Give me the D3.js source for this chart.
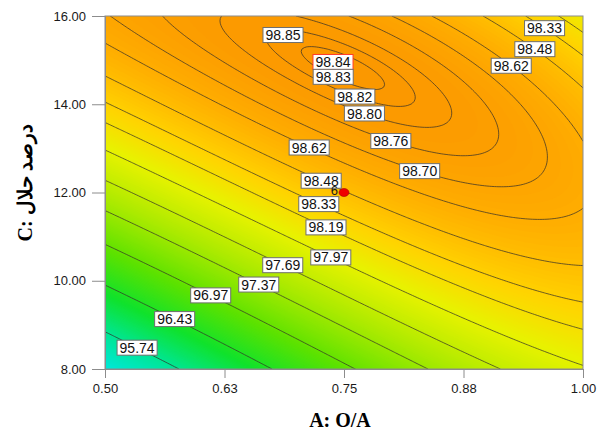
<!DOCTYPE html>
<html>
<head>
<meta charset="utf-8">
<script src="https://cdn.jsdelivr.net/npm/d3@7"></script>
<style>
  body { margin: 0; background: #fff; }
  svg { display: block; }
</style>
</head>
<body>
<svg id="chart" width="604" height="432"></svg>
<script>
// contour levels that carry a label on the plot
var levels = [95.74, 96.43, 96.97, 97.37, 97.69, 97.97, 98.19, 98.33, 98.48,
              98.62, 98.70, 98.76, 98.80, 98.82, 98.83, 98.84, 98.85];
var xTicks = [0.5, 0.625, 0.75, 0.875, 1.0];
var xTickLabels = ["0.50", "0.63", "0.75", "0.88", "1.00"];
var yTicks = [8, 10, 12, 14, 16];

// points: O/A, solvent %, response
var obsA = [0.5, 0.5, 0.5, 0.5, 0.5, 0.5, 0.5, 0.5, 0.5, 0.5,
            0.5732, 0.6674, 0.7563, 0.8368, 0.9205,
            1, 1, 1, 1, 1, 1,
            0.6862, 0.7385, 0.7364, 0.7615, 0.7720, 0.8002, 0.8295, 0.7123,
            0.9236, 0.9487, 0.9613, 0.7249, 0.7238, 0.7322, 0.7364, 0.6872,
            0.6611, 0.6109, 0.5743, 0.5366, 0.9519];
var obsC = [8.816, 9.858, 10.765, 11.535, 12.261, 12.963, 13.598, 14.096, 14.708, 15.433,
            8, 8, 8, 8, 8,
            8.159, 8.884, 9.496, 10.176, 11.354, 13.054,
            15.569, 14.958, 14.550, 14.164, 13.779, 13.258, 12.578, 12.986,
            14.799, 15.229, 15.728, 12.261, 11.717, 11.195, 10.538, 10.357,
            9.949, 9.700, 9.201, 8.589, 12.510];
var obsY = [95.74, 96.43, 96.97, 97.37, 97.69, 97.97, 98.19, 98.33, 98.48, 98.62,
            95.74, 96.43, 96.97, 97.37, 97.69,
            97.97, 98.19, 98.33, 98.48, 98.62, 98.62,
            98.85, 98.84, 98.83, 98.82, 98.80, 98.76, 98.70, 98.62,
            98.62, 98.48, 98.33, 98.48, 98.33, 98.19, 97.97, 97.69,
            97.37, 96.97, 96.43, 95.74, 98.70];

// where the label boxes sit
var labelLevel = [98.85, 98.84, 98.83, 98.82, 98.80, 98.76, 98.70, 98.62,
                  98.62, 98.48, 98.33, 98.48, 98.33, 98.19, 97.97, 97.69,
                  97.37, 96.97, 96.43, 95.74];
var labelA = [0.6862, 0.7385, 0.7364, 0.7615, 0.7720, 0.8002, 0.8295, 0.7123,
              0.9236, 0.9487, 0.9613, 0.7249, 0.7238, 0.7322, 0.7364, 0.6872,
              0.6611, 0.6109, 0.5743, 0.5366];
var labelC = [15.569, 14.958, 14.550, 14.164, 13.779, 13.258, 12.578, 12.986,
              14.799, 15.229, 15.728, 12.261, 11.717, 11.195, 10.538, 10.357,
              9.949, 9.700, 9.201, 8.589];

// design point (centre point, 6 runs)
var designA = [0.75];
var designC = [12];
var designRuns = ["6"];

var svg = d3.select("#chart");
var plotL = 105, plotR = 583, plotT = 16, plotB = 369;

var xScale = d3.scaleLinear().domain([0.5, 1]).range([plotL, plotR]);
var yScale = d3.scaleLinear().domain([8, 16]).range([plotB, plotT]);

var colour = d3.scaleLinear()
  .domain([95.1, 95.7, 96.3, 96.9, 97.5, 98.0, 98.3, 98.6, 98.85])
  .range(["#00e8e0", "#00e698", "#10e22c", "#5ce200", "#acea00", "#e8f200",
          "#ffd400", "#ffaf00", "#fb9600"])
  .clamp(true);

// cubic response surface in coded units, least squares on the points above
function basis(A, C) {
  var a = (A - 0.75) / 0.25, c = (C - 12) / 4;
  return [1, a, c, a * c, a * a, c * c, a * a * c, a * c * c, a * a * a, c * c * c];
}

function fit(As, Cs, Ys) {
  var k = basis(0.75, 12).length;
  var M = d3.range(k).map(function() { return new Array(k + 1).fill(0); });
  As.forEach(function(A, i) {
    var b = basis(A, Cs[i]);
    for (var r = 0; r < k; r++) {
      for (var s = 0; s < k; s++) M[r][s] += b[r] * b[s];
      M[r][k] += b[r] * Ys[i];
    }
  });
  for (var r = 0; r < k; r++) M[r][r] += 1e-4;
  for (var p = 0; p < k; p++) {
    var best = p;
    for (var r2 = p + 1; r2 < k; r2++) if (Math.abs(M[r2][p]) > Math.abs(M[best][p])) best = r2;
    var tmp = M[p]; M[p] = M[best]; M[best] = tmp;
    for (var r3 = 0; r3 < k; r3++) {
      if (r3 === p) continue;
      var f = M[r3][p] / M[p][p];
      for (var s2 = p; s2 <= k; s2++) M[r3][s2] -= f * M[p][s2];
    }
  }
  return M.map(function(row, i) { return row[k] / row[i]; });
}

var coef = fit(obsA, obsC, obsY);
function surface(A, C) {
  return d3.sum(basis(A, C), function(b, i) { return b * coef[i]; });
}

// sample the surface on a grid
var nx = 200, ny = 150;
var grid = new Array(nx * ny);
for (var j = 0; j < ny; j++) {
  for (var i = 0; i < nx; i++) {
    grid[j * nx + i] = surface(0.5 + i * 0.5 / (nx - 1), 16 - j * 8 / (ny - 1));
  }
}
function gridA(gx) { return 0.5 + (gx - 0.5) * 0.5 / (nx - 1); }
function gridC(gy) { return 16 - (gy - 0.5) * 8 / (ny - 1); }

var path = d3.geoPath(d3.geoTransform({
  point: function(x, y) { this.stream.point(xScale(gridA(x)), yScale(gridC(y))); }
}));

svg.append("clipPath").attr("id", "plotClip")
  .append("rect")
    .attr("x", plotL).attr("y", plotT)
    .attr("width", plotR - plotL).attr("height", plotB - plotT);

var plot = svg.append("g").attr("clip-path", "url(#plotClip)");

// colour field as many thin filled bands
var lo = d3.min(grid);
var fillSteps = d3.range(Math.floor(lo * 50) / 50, 98.9, 0.02);
plot.append("rect")
  .attr("x", plotL).attr("y", plotT)
  .attr("width", plotR - plotL).attr("height", plotB - plotT)
  .attr("fill", colour(lo));

plot.append("g")
  .selectAll("path")
  .data(d3.contours().size([nx, ny]).thresholds(fillSteps)(grid))
  .enter()
    .append("path")
    .attr("d", path)
    .attr("fill", function(d) { return colour(d.value + 0.01); });

// contour lines
var lines = d3.contours().size([nx, ny]).thresholds(levels)(grid);
plot.append("g")
  .selectAll("path")
  .data(lines)
  .enter()
    .append("path")
    .attr("d", path)
    .attr("fill", "none")
    .attr("stroke", function(d) { return d.value === 98.84 ? "#ff3a2a" : "#34302a"; })
    .attr("stroke-opacity", 0.9)
    .attr("stroke-width", 0.8);

// frame
svg.append("rect")
  .attr("x", plotL).attr("y", plotT)
  .attr("width", plotR - plotL).attr("height", plotB - plotT)
  .attr("fill", "none")
  .attr("stroke", "#8c8c8c")
  .attr("stroke-width", 1);

// axes
var yAxis = d3.axisLeft(yScale)
  .tickValues(yTicks)
  .tickFormat(d3.format(".2f"))
  .tickSize(13)
  .tickPadding(6);

var xAxis = d3.axisBottom(xScale)
  .tickValues(xTicks)
  .tickFormat(function(d, i) { return xTickLabels[i]; })
  .tickSize(9)
  .tickPadding(6);

var gy = svg.append("g").attr("transform", "translate(" + plotL + ",0)").call(yAxis);
var gx = svg.append("g").attr("transform", "translate(0," + plotB + ")").call(xAxis);

[gx, gy].forEach(function(g) {
  g.select(".domain").attr("stroke", "#8c8c8c");
  g.selectAll(".tick line").attr("stroke", "#8c8c8c");
  g.selectAll(".tick text")
    .attr("fill", "#1a1a1a")
    .style("font-family", "'Liberation Sans', Arial, sans-serif")
    .style("font-size", "13px");
});

// contour labels, snapped onto the nearest point of their own line
function nearestOnLine(level, px, py) {
  var best = null, bestD = Infinity;
  lines.filter(function(d) { return d.value === level; }).forEach(function(d) {
    d.coordinates.forEach(function(poly) {
      poly.forEach(function(ring) {
        ring.forEach(function(pt) {
          var x = xScale(gridA(pt[0])), y = yScale(gridC(pt[1]));
          if (x < plotL + 2 || x > plotR - 2 || y < plotT + 2 || y > plotB - 2) return;
          var dd = (x - px) * (x - px) + (y - py) * (y - py);
          if (dd < bestD) { bestD = dd; best = [x, y]; }
        });
      });
    });
  });
  return best && bestD < 400 ? best : [px, py];
}

var labels = svg.append("g")
  .selectAll("g")
  .data(labelLevel)
  .enter()
    .append("g")
    .attr("transform", function(d, i) {
      var p = nearestOnLine(d, xScale(labelA[i]), yScale(labelC[i]));
      return "translate(" + p[0] + "," + p[1] + ")";
    });

labels.append("text")
  .attr("text-anchor", "middle")
  .attr("dy", "0.36em")
  .attr("fill", "#111")
  .style("font-family", "'Liberation Sans', Arial, sans-serif")
  .style("font-size", "14px")
  .text(function(d) { return d.toFixed(2); });

labels.insert("rect", "text")
  .each(function() {
    var w = this.parentNode.querySelector("text").getComputedTextLength() + 5;
    d3.select(this)
      .attr("x", -w / 2).attr("y", -7.5)
      .attr("width", w).attr("height", 15);
  })
  .attr("fill", "#fff")
  .attr("stroke", function(d) { return d === 98.84 ? "#ff3a2a" : "#6e6e6e"; })
  .attr("stroke-width", 1);

// design point
svg.selectAll("ellipse.design")
  .data(designA)
  .enter()
    .append("ellipse")
    .attr("class", "design")
    .attr("cx", function(d) { return xScale(d); })
    .attr("cy", function(d, i) { return yScale(designC[i]); })
    .attr("rx", 5).attr("ry", 4)
    .attr("fill", "#f00000")
    .attr("stroke", "#a00000")
    .attr("stroke-width", 0.6);

svg.selectAll("text.runs")
  .data(designA)
  .enter()
    .append("text")
    .attr("class", "runs")
    .attr("x", function(d) { return xScale(d) - 6; })
    .attr("y", function(d, i) { return yScale(designC[i]) + 2; })
    .attr("text-anchor", "end")
    .attr("fill", "#1a1a1a")
    .style("font-family", "'Liberation Sans', Arial, sans-serif")
    .style("font-size", "13px")
    .text(function(d, i) { return designRuns[i]; });

// axis titles
svg.append("text")
  .attr("x", 340)
  .attr("y", 427)
  .attr("text-anchor", "middle")
  .attr("fill", "#000")
  .style("font-family", "'Times New Roman', 'Liberation Serif', serif")
  .style("font-weight", "bold")
  .style("font-size", "20px")
  .text("A: O/A");

svg.append("text")
  .attr("transform", "translate(32,183) rotate(-90)")
  .attr("text-anchor", "middle")
  .attr("fill", "#000")
  .style("font-family", "'Times New Roman', 'Liberation Serif', serif")
  .style("font-weight", "bold")
  .style("font-size", "20px")
  .text("C: درصد حلال");
</script>
</body>
</html>
